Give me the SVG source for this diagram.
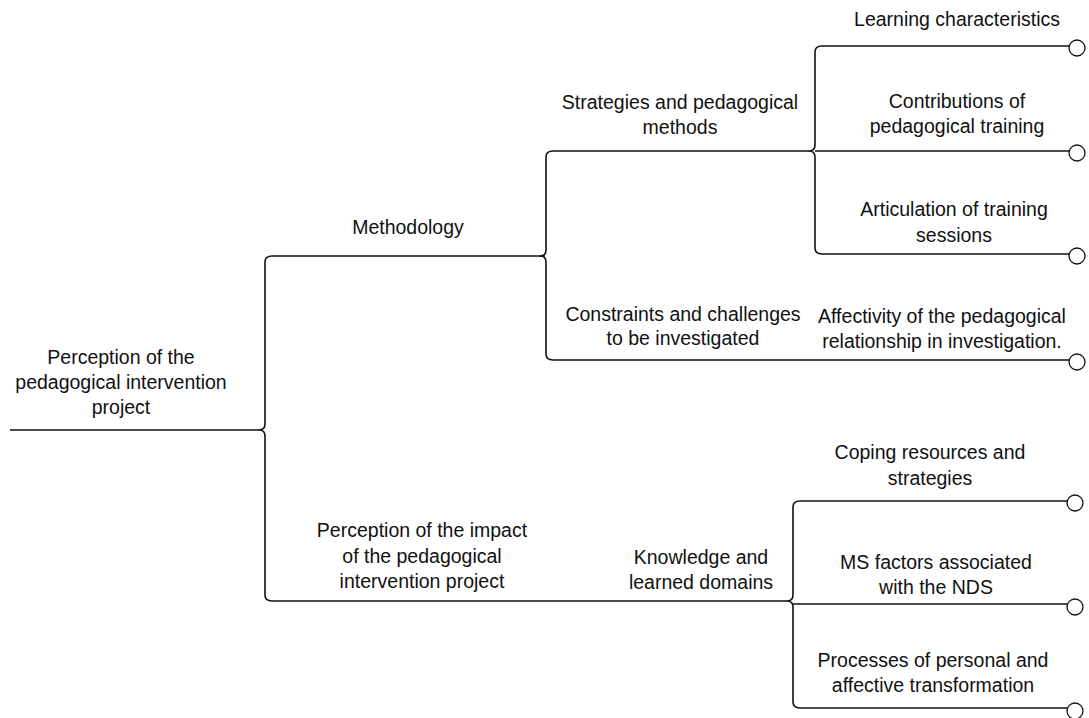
<svg xmlns="http://www.w3.org/2000/svg" width="1089" height="718" viewBox="0 0 1089 718">
  <style>
    .lbl { font-family: "Liberation Sans", Arial, sans-serif; font-size: 19.5px; fill: #111; text-anchor: middle; }
    .wire { fill: none; stroke: #111; stroke-width: 1.6; stroke-linejoin: round; }
    .end { fill: #fff; stroke: #111; stroke-width: 1.3; }
  </style>
  <rect width="1089" height="718" fill="#fff"/>

  <!-- connectors: braces and branch lines -->
  <g id="connectors">
    <!-- root stem -->
    <path class="wire" d="M10,430 H259"/>
    <!-- brace at x=265 -->
    <path class="wire" d="M545,256 H272 Q265,256 265,262 V424 Q265,430 259,430 Q265,430 265,436 V595 Q265,601 272,601 H787"/>
    <!-- brace at x=546 -->
    <path class="wire" d="M809,151 H553 Q546,151 546,157 V250 Q546,256 540,256 Q546,256 546,262 V354 Q546,360 553,360 H1069"/>
    <!-- brace at x=815 -->
    <path class="wire" d="M1069,46 H822 Q815,46 815,52 V145 Q815,151 809,151 Q815,151 815,157 V248 Q815,254 822,254 H1069"/>
    <path class="wire" d="M815,151 H1069"/>
    <!-- brace at x=793 -->
    <path class="wire" d="M1067,501 H800 Q793,501 793,507 V595 Q793,601 787,601 Q793,601 793,607 V702 Q793,708 800,708 H1067"/>
    <path class="wire" d="M793,604 H1067"/>
  </g>

  <g id="root">
    <text class="lbl" x="121" y="364">Perception of the</text>
    <text class="lbl" x="121" y="389">pedagogical intervention</text>
    <text class="lbl" x="121" y="414">project</text>
  </g>

  <g id="methodology">
    <text class="lbl" x="408" y="234">Methodology</text>
  </g>

  <g id="strategies">
    <text class="lbl" x="680" y="109">Strategies and pedagogical</text>
    <text class="lbl" x="680" y="134">methods</text>
  </g>

  <g id="learning-characteristics">
    <text class="lbl" x="957" y="26">Learning characteristics</text>
    <circle class="end" cx="1077" cy="48" r="8"/>
  </g>

  <g id="contributions">
    <text class="lbl" x="957" y="108">Contributions of</text>
    <text class="lbl" x="957" y="133">pedagogical training</text>
    <circle class="end" cx="1077" cy="153" r="8"/>
  </g>

  <g id="articulation">
    <text class="lbl" x="954" y="216">Articulation of training</text>
    <text class="lbl" x="954" y="242">sessions</text>
    <circle class="end" cx="1077" cy="256" r="8"/>
  </g>

  <g id="constraints">
    <text class="lbl" x="683" y="321">Constraints and challenges</text>
    <text class="lbl" x="683" y="345">to be investigated</text>
  </g>

  <g id="affectivity">
    <text class="lbl" x="942" y="323">Affectivity of the pedagogical</text>
    <text class="lbl" x="942" y="348">relationship in investigation.</text>
    <circle class="end" cx="1077" cy="362" r="8"/>
  </g>

  <g id="impact">
    <text class="lbl" x="422" y="537">Perception of the impact</text>
    <text class="lbl" x="422" y="563">of the pedagogical</text>
    <text class="lbl" x="422" y="588">intervention project</text>
  </g>

  <g id="knowledge">
    <text class="lbl" x="701" y="564">Knowledge and</text>
    <text class="lbl" x="701" y="589">learned domains</text>
  </g>

  <g id="coping">
    <text class="lbl" x="930" y="459">Coping resources and</text>
    <text class="lbl" x="930" y="485">strategies</text>
    <circle class="end" cx="1075" cy="503" r="8"/>
  </g>

  <g id="ms-factors">
    <text class="lbl" x="936" y="569">MS factors associated</text>
    <text class="lbl" x="936" y="594">with the NDS</text>
    <circle class="end" cx="1075" cy="607" r="8"/>
  </g>

  <g id="processes">
    <text class="lbl" x="933" y="667">Processes of personal and</text>
    <text class="lbl" x="933" y="692">affective transformation</text>
    <circle class="end" cx="1075" cy="711" r="8"/>
  </g>
</svg>
